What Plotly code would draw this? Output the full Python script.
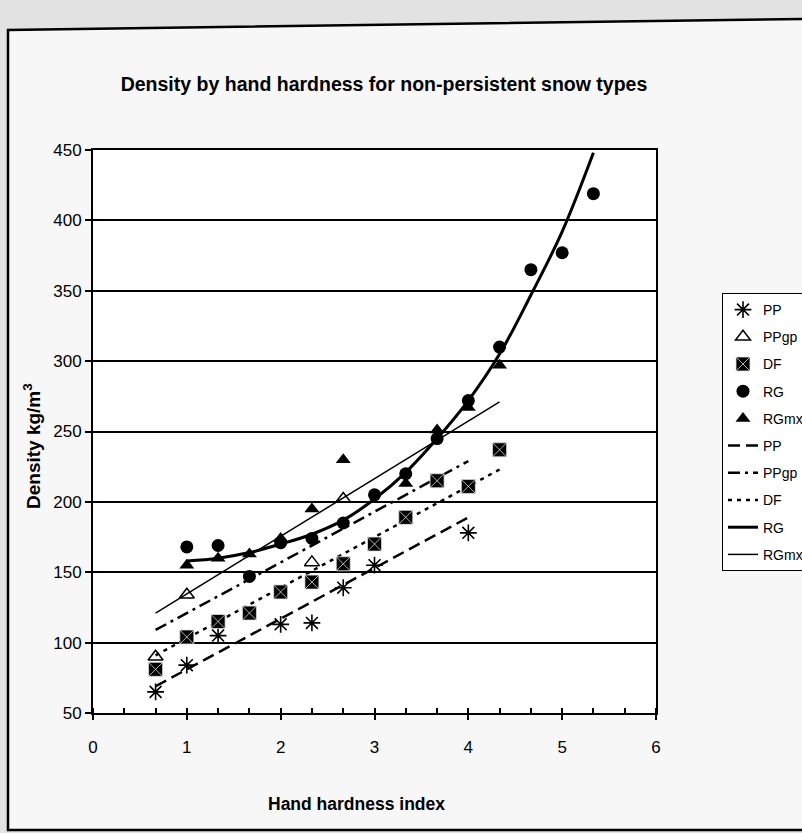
import plotly.graph_objects as go

# ---------------- data ----------------
pp_x = [0.667, 1.0, 1.333, 2.0, 2.333, 2.667, 3.0, 4.0]
pp_y = [65, 84, 105, 113, 114, 139, 155, 178]

ppgp_x = [0.667, 1.0, 2.333, 2.667]
ppgp_y = [90, 134, 157, 202]

df_x = [0.667, 1.0, 1.333, 1.667, 2.0, 2.333, 2.667, 3.0, 3.333, 3.667, 4.0, 4.333]
df_y = [81, 104, 115, 121, 136, 143, 156, 170, 189, 215, 211, 237]

rg_x = [1.0, 1.333, 1.667, 2.0, 2.333, 2.667, 3.0, 3.333, 3.667, 4.0, 4.333, 4.667, 5.0, 5.333]
rg_y = [168, 169, 147, 171, 174, 185, 205, 220, 245, 272, 310, 365, 377, 419]

rgmx_x = [1.0, 1.333, 1.667, 2.0, 2.333, 2.667, 3.333, 3.667, 4.0, 4.333]
rgmx_y = [155, 160, 163, 174, 195, 230, 213, 251, 267, 297]

# trend lines
pp_fit_x = [0.667, 4.0]
pp_fit_y = [69, 189]
ppgp_fit_x = [0.667, 4.0]
ppgp_fit_y = [109, 229]
df_fit_x = [0.667, 4.333]
df_fit_y = [91, 223]
rg_fit_x = [1.0, 1.333, 1.667, 2.0, 2.333, 2.667, 3.0, 3.333, 3.667, 4.0, 4.333, 4.667, 5.0, 5.333]
rg_fit_y = [158, 160, 164, 170, 177, 187, 202, 221, 245, 272, 305, 347, 392, 448]
rgmx_fit_x = [0.667, 4.333]
rgmx_fit_y = [121, 271]

x_tickvals = [0, 0.333, 0.667, 1, 1.333, 1.667, 2, 2.333, 2.667, 3, 3.333, 3.667,
              4, 4.333, 4.667, 5, 5.333, 5.667, 6]
x_ticktext = ["0", "", "", "1", "", "", "2", "", "", "3", "", "", "4", "", "", "5", "", "", "6"]
y_tickvals = [50, 100, 150, 200, 250, 300, 350, 400, 450]

title_text = "Density by hand hardness for non-persistent snow types"
x_title = "Hand hardness index"
y_title = "Density kg/m<sup>3</sup>"

FONT = "Arial, Liberation Sans, Helvetica, sans-serif"
W, H = 802, 833
L, R, T, B = 93, 656, 150, 713
PW, PH = R - L, B - T


def px(xp):
    return (xp - L) / PW


def py(yp):
    return (B - yp) / PH


fig = go.Figure()

# ---------------- trend lines ----------------
line_specs = [
    ("PP", pp_fit_x, pp_fit_y, dict(color="black", width=2.5, dash="12px,6px"), 6),
    ("PPgp", ppgp_fit_x, ppgp_fit_y, dict(color="black", width=2.5, dash="12px,5px,3px,5px"), 7),
    ("DF", df_fit_x, df_fit_y, dict(color="black", width=2.5, dash="4px,5px"), 8),
    ("RG", rg_fit_x, rg_fit_y, dict(color="black", width=3, shape="spline"), 9),
    ("RGmx", rgmx_fit_x, rgmx_fit_y, dict(color="black", width=1.5), 10),
]
for name, xs, ys, ln, rank in line_specs:
    fig.add_trace(go.Scatter(x=xs, y=ys, mode="lines", name=name, line=ln,
                             legendgroup="l" + name, legendrank=rank, hoverinfo="skip"))

# ---------------- markers ----------------
marker_specs = [
    ("PP", pp_x, pp_y, dict(symbol="asterisk-open", size=14, color="black",
                            line=dict(color="black", width=1.6)), 1),
    ("PPgp", ppgp_x, ppgp_y, dict(symbol="triangle-up-open", size=13, color="black",
                                  line=dict(color="black", width=1.5)), 2),
    ("DF", df_x, df_y, dict(symbol="square-x", size=14, color="black",
                            line=dict(color="#dddddd", width=0.8)), 3),
    ("RG", rg_x, rg_y, dict(symbol="circle", size=13, color="black",
                            line=dict(width=0)), 4),
    ("RGmx", rgmx_x, rgmx_y, dict(symbol="triangle-up", size=13, color="black",
                                  line=dict(width=0)), 5),
]
for name, xs, ys, mk, rank in marker_specs:
    fig.add_trace(go.Scatter(x=xs, y=ys, mode="markers", name=name, marker=mk,
                             legendgroup="m" + name, legendrank=rank))

# ---------------- frame shapes ----------------
shapes = [
    dict(type="path", xref="paper", yref="paper", layer="below",
         path=f"M {px(8)},{py(830)} L {px(8)},{py(30)} L {px(806)},{py(19)} L {px(806)},{py(830)} Z",
         fillcolor="#f7f7f7", line=dict(color="black", width=2.5)),
    dict(type="rect", xref="paper", yref="paper", layer="below",
         x0=0, x1=1, y0=0, y1=1, fillcolor="white", line=dict(width=0)),
]

annotations = [
    dict(text="<b>" + x_title + "</b>", xref="paper", yref="paper",
         x=px(356), y=py(804), showarrow=False, xanchor="center", yanchor="middle",
         font=dict(family=FONT, size=17.5, color="black")),
    dict(text="<b>" + y_title + "</b>", xref="paper", yref="paper",
         x=px(32), y=py(446), showarrow=False, xanchor="center", yanchor="middle",
         textangle=-90, font=dict(family=FONT, size=19, color="black")),
]

fig.update_layout(
    width=W, height=H,
    margin=dict(l=L, r=W - R, t=T, b=H - B, autoexpand=False),
    paper_bgcolor="#e2e2e2",
    plot_bgcolor="white",
    font=dict(family=FONT, size=17, color="black"),
    title=dict(text="<b>" + title_text + "</b>", xref="paper", x=px(384), xanchor="center",
               yref="container", y=1 - 84 / H, yanchor="middle",
               font=dict(family=FONT, size=19.5, color="black")),
    showlegend=True,
    legend=dict(x=px(722), y=py(293), xanchor="left", yanchor="top",
                bgcolor="white", bordercolor="black", borderwidth=1,
                font=dict(family=FONT, size=14, color="black"),
                tracegroupgap=6, traceorder="grouped"),
    shapes=shapes,
    annotations=annotations,
)

fig.update_xaxes(
    range=[0, 6], tickmode="array", tickvals=x_tickvals, ticktext=x_ticktext,
    ticks="outside", ticklen=5, tickwidth=1.5, tickcolor="black",
    minor=dict(tickmode="array", tickvals=x_tickvals, ticks="inside", ticklen=5,
               tickwidth=1.5, tickcolor="black", showgrid=False),
    showline=True, linecolor="black", linewidth=2, mirror=True,
    showgrid=False, zeroline=False, ticklabelstandoff=13,
    tickfont=dict(family=FONT, size=17, color="black"),
)
fig.update_yaxes(
    range=[50, 450], tickmode="array", tickvals=y_tickvals,
    ticks="outside", ticklen=6, tickwidth=1.5, tickcolor="black",
    showline=True, linecolor="black", linewidth=2, mirror=True,
    showgrid=True, gridcolor="black", gridwidth=2, zeroline=False,
    tickfont=dict(family=FONT, size=17, color="black"),
)

fig.write_html("out.html",
               config={"displayModeBar": False},
               post_script="document.body.style.margin='0';document.body.style.padding='0';")
